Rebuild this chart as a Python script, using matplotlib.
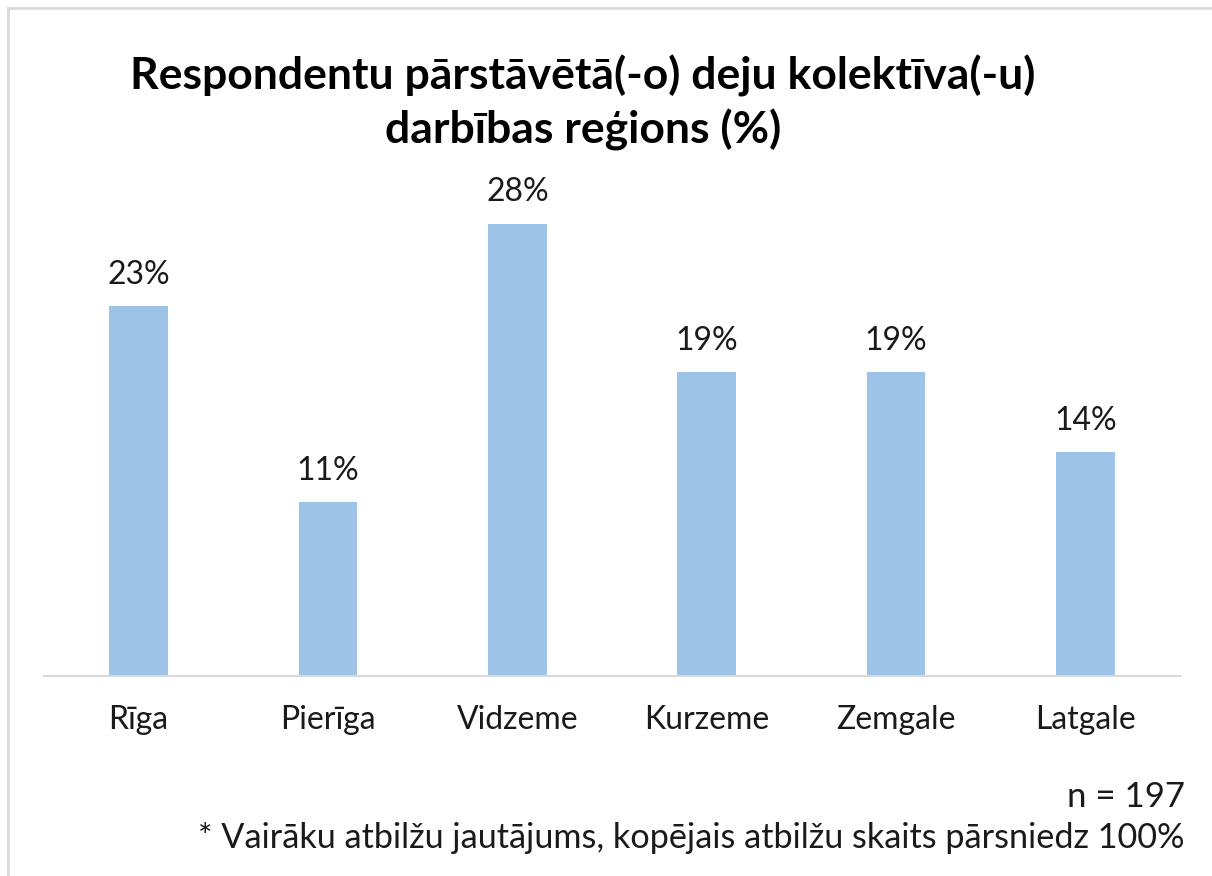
import matplotlib
matplotlib.use("Agg")
import matplotlib.pyplot as plt
from matplotlib.patches import Rectangle

regions = ["Rīga", "Pierīga", "Vidzeme", "Kurzeme", "Zemgale", "Latgale"]
shares = [23.0, 10.8, 28.1, 18.9, 18.9, 13.9]
title = "Respondentu pārstāvētā(-o) deju kolektīva(-u)\ndarbības reģions (%)"
note_n = "n = 197"
note = "* Vairāku atbilžu jautājums, kopējais atbilžu skaits pārsniedz 100%"

plt.rcParams["font.family"] = ["Lato", "DejaVu Sans"]

fig = plt.figure(figsize=(12.12, 8.76), dpi=100)
W, H = 1212, 876
ax = fig.add_axes([44 / W, 1 - 676 / H, (1180 - 44) / W, (676 - 193) / H])

x = range(len(regions))
bars = ax.bar(x, shares, width=0.31, color="#9DC3E6")
for b, v in zip(bars, shares):
    ax.text(b.get_x() + b.get_width() / 2, v + 1.0, f"{v:.0f}%", ha="center",
            va="bottom", fontsize=23, color="#1a1a1a")

ax.set_xlim(-0.5, len(regions) - 0.5)
ax.set_ylim(0, 30)
ax.set_yticks([])
ax.set_xticks(list(x))
ax.set_xticklabels(regions, fontsize=23, color="#1a1a1a")
ax.tick_params(axis="x", length=0, pad=21)
for s in ["top", "right", "left"]:
    ax.spines[s].set_visible(False)
ax.spines["bottom"].set_color("#D9D9D9")
ax.spines["bottom"].set_linewidth(1.5)

fig.text(583 / W, 1 - 103 / H, title, ha="center", va="center", fontsize=32,
         fontweight="bold", color="#000000", linespacing=1.33)
fig.text(1185 / W, 1 - 797 / H, note_n, ha="right", va="center", fontsize=25,
         color="#1a1a1a")
fig.text(1185 / W, 1 - 838 / H, note, ha="right", va="center", fontsize=24.7,
         color="#1a1a1a")

# thin grey frame along left and top edges
fig.add_artist(Rectangle((8 / W, -0.1), 1.2, 1 - 8 / H + 0.1, transform=fig.transFigure,
                         fill=False, edgecolor="#D9D9D9", linewidth=2))

fig.savefig("out.png", dpi=100)
